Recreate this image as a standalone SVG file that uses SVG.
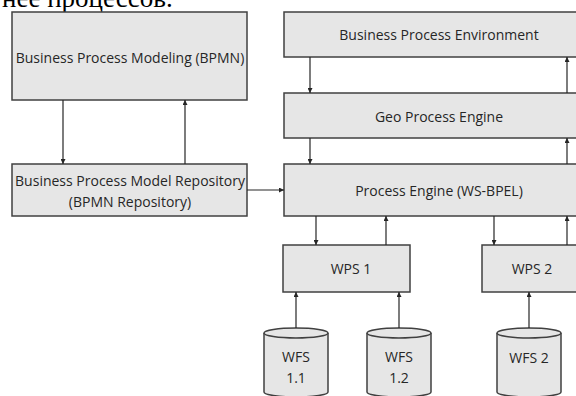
<svg xmlns="http://www.w3.org/2000/svg" width="576" height="396" viewBox="0 0 576 396">
<style>
.box{fill:#e6e6e6;stroke:#404040;stroke-width:1.5}
.t{font-family:"Open Sans","Liberation Sans",sans-serif;font-size:14px;fill:#262626;text-anchor:middle;dominant-baseline:central}
.c{fill:none;stroke:#262626;stroke-width:1.2}
.top{font-family:"Liberation Serif",serif;font-size:27px;fill:#000}
</style>
<defs>
<marker id="ah" viewBox="0 0 6 6" refX="6" refY="3" markerWidth="5" markerHeight="5" markerUnits="userSpaceOnUse" orient="auto">
<path d="M0,0 L6,3 L0,6 Z" fill="#262626"/>
</marker>
</defs>
<rect width="576" height="396" fill="#fff"/>
<text class="top" x="2" y="7">нее процессов.</text>
<g id="bpm"><rect class="box" x="12" y="12" width="235" height="88"/><text class="t" x="130" y="57">Business Process Modeling (BPMN)</text></g>
<g id="repo"><rect class="box" x="12" y="164" width="235" height="52"/><text class="t" x="130" y="180">Business Process Model Repository</text><text class="t" x="130" y="201">(BPMN Repository)</text></g>
<g id="bpe"><rect class="box" x="284" y="12" width="310" height="45"/><text class="t" x="439" y="34">Business Process Environment</text></g>
<g id="geo"><rect class="box" x="284" y="93" width="310" height="45"/><text class="t" x="439" y="116">Geo Process Engine</text></g>
<g id="pe"><rect class="box" x="284" y="164" width="310" height="52"/><text class="t" x="439" y="190">Process Engine (WS-BPEL)</text></g>
<g id="wps1"><rect class="box" x="283" y="245" width="127" height="47"/><text class="t" x="351" y="268">WPS 1</text></g>
<g id="wps2"><rect class="box" x="482" y="245" width="127" height="47"/><text class="t" x="532" y="268">WPS 2</text></g>
<g id="wfs11"><path class="box" d="M264,333 L264,392 A32,5 0 0 0 328,392 L328,333"/><ellipse class="box" cx="296" cy="333" rx="32" ry="5"/><text class="t" x="296" y="356">WFS</text><text class="t" x="296" y="377">1.1</text></g>
<g id="wfs12"><path class="box" d="M367,333 L367,392 A32,5 0 0 0 431,392 L431,333"/><ellipse class="box" cx="399" cy="333" rx="32" ry="5"/><text class="t" x="399" y="356">WFS</text><text class="t" x="399" y="377">1.2</text></g>
<g id="wfs2"><path class="box" d="M497,333 L497,392 A32,5 0 0 0 561,392 L561,333"/><ellipse class="box" cx="529" cy="333" rx="32" ry="5"/><text class="t" x="529" y="357">WFS 2</text></g>
<g id="connectors">
<line class="c" x1="63" y1="100" x2="63" y2="164" marker-end="url(#ah)"/>
<line class="c" x1="185" y1="164" x2="185" y2="100" marker-end="url(#ah)"/>
<line class="c" x1="247" y1="190" x2="284" y2="190" marker-end="url(#ah)"/>
<line class="c" x1="310" y1="57" x2="310" y2="93" marker-end="url(#ah)"/>
<line class="c" x1="567" y1="93" x2="567" y2="57" marker-end="url(#ah)"/>
<line class="c" x1="310" y1="138" x2="310" y2="164" marker-end="url(#ah)"/>
<line class="c" x1="567" y1="164" x2="567" y2="138" marker-end="url(#ah)"/>
<line class="c" x1="316" y1="216" x2="316" y2="245" marker-end="url(#ah)"/>
<line class="c" x1="386" y1="245" x2="386" y2="216" marker-end="url(#ah)"/>
<line class="c" x1="494" y1="216" x2="494" y2="245" marker-end="url(#ah)"/>
<line class="c" x1="567" y1="245" x2="567" y2="216" marker-end="url(#ah)"/>
<line class="c" x1="296" y1="328" x2="296" y2="292" marker-end="url(#ah)"/>
<line class="c" x1="399" y1="328" x2="399" y2="292" marker-end="url(#ah)"/>
<line class="c" x1="529" y1="328" x2="529" y2="292" marker-end="url(#ah)"/>
</g>
</svg>
